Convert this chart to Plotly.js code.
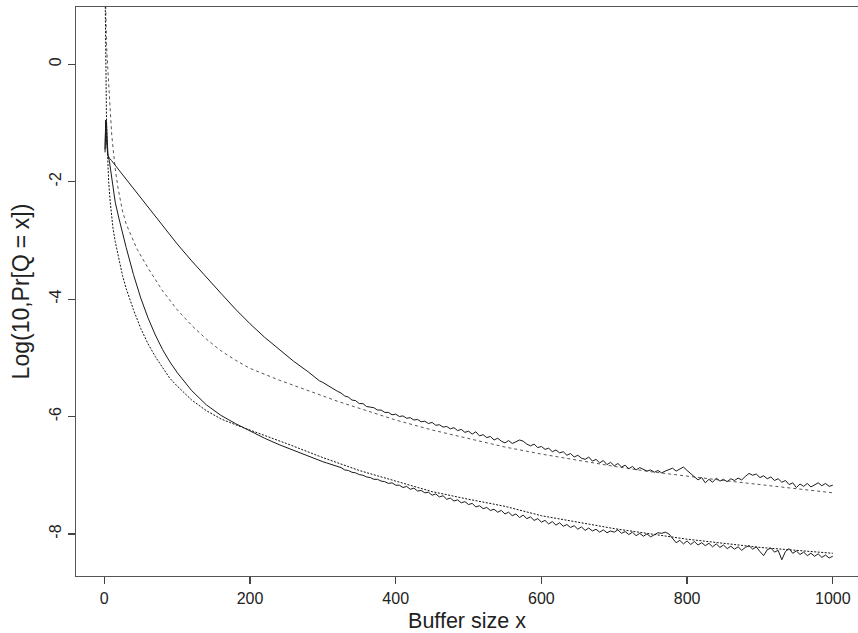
<!DOCTYPE html>
<html>
<head>
<meta charset="utf-8">
<script src="https://cdn.plot.ly/plotly-3.0.1.min.js"></script>
<style>html,body{margin:0;padding:0;background:#fff;}#chart{width:858px;height:633px;}</style>
</head>
<body>
<div id="chart"></div>
<script>
// ---- data ----
// Head (x < 300) of the two simulated (solid) curves
const upperSolidHeadX = [1, 2, 3, 4, 5, 7, 10, 20, 30, 40, 50, 60, 80, 100, 120, 140, 160, 180, 200, 220, 240, 260, 280, 295];
const upperSolidHeadY = [-1.45, -0.95, -1.0, -1.5, -1.55, -1.60, -1.64, -1.80, -1.96, -2.12, -2.28, -2.44, -2.76, -3.06, -3.35, -3.63, -3.90, -4.17, -4.42, -4.65, -4.86, -5.06, -5.24, -5.39];
const lowerSolidHeadX = [1, 2, 3, 4, 5, 7, 10, 15, 20, 25, 30, 40, 50, 60, 70, 80, 90, 100, 120, 140, 160, 180, 200, 220, 240, 260, 280, 295];
const lowerSolidHeadY = [-1.5, -0.95, -1.3, -1.45, -1.55, -1.65, -1.95, -2.35, -2.62, -2.88, -3.12, -3.58, -3.98, -4.32, -4.61, -4.86, -5.07, -5.25, -5.56, -5.80, -5.98, -6.12, -6.25, -6.37, -6.48, -6.58, -6.68, -6.75];

// Tail (x = 300 .. 1000, every 5) of the two simulated curves
const tailStart = 300, tailStep = 5;
const upperSolidTail = [
 -5.42,-5.46,-5.49,-5.54,-5.57,-5.60,-5.65,-5.67,-5.72,-5.73,
 -5.78,-5.78,-5.83,-5.84,-5.85,-5.89,-5.89,-5.93,-5.93,-5.97,
 -5.96,-6.00,-5.99,-6.03,-6.02,-6.06,-6.05,-6.09,-6.08,-6.12,
 -6.10,-6.15,-6.14,-6.18,-6.17,-6.21,-6.19,-6.24,-6.22,-6.27,
 -6.25,-6.30,-6.26,-6.33,-6.31,-6.36,-6.34,-6.40,-6.37,-6.42,
 -6.45,-6.41,-6.46,-6.43,-6.40,-6.42,-6.47,-6.50,-6.47,-6.53,
 -6.51,-6.56,-6.54,-6.60,-6.57,-6.62,-6.60,-6.66,-6.63,-6.69,
 -6.66,-6.71,-6.73,-6.69,-6.76,-6.73,-6.79,-6.75,-6.82,-6.78,
 -6.84,-6.80,-6.86,-6.83,-6.89,-6.85,-6.91,-6.87,-6.90,-6.93,
 -6.91,-6.95,-6.92,-6.96,-6.93,-6.90,-6.88,-6.93,-6.89,-6.86,
 -6.92,-6.97,-7.03,-7.08,-7.04,-7.13,-7.07,-7.12,-7.05,-7.10,
 -7.07,-7.11,-7.06,-7.09,-7.05,-7.08,-7.02,-6.97,-7.00,-6.98,
 -7.04,-7.01,-7.06,-7.03,-7.09,-7.06,-7.12,-7.09,-7.16,-7.13,
 -7.21,-7.15,-7.19,-7.14,-7.20,-7.16,-7.13,-7.18,-7.14,-7.19,
 -7.17
];
const lowerSolidTail = [
 -6.77,-6.79,-6.81,-6.83,-6.86,-6.87,-6.91,-6.92,-6.95,-6.96,
 -6.99,-7.00,-7.03,-7.04,-7.07,-7.07,-7.10,-7.11,-7.14,-7.13,
 -7.17,-7.17,-7.21,-7.19,-7.24,-7.22,-7.27,-7.26,-7.30,-7.29,
 -7.34,-7.32,-7.37,-7.35,-7.41,-7.39,-7.44,-7.42,-7.47,-7.45,
 -7.50,-7.48,-7.54,-7.52,-7.57,-7.55,-7.60,-7.58,-7.63,-7.60,
 -7.66,-7.63,-7.69,-7.66,-7.72,-7.68,-7.74,-7.71,-7.77,-7.74,
 -7.80,-7.77,-7.83,-7.79,-7.85,-7.81,-7.87,-7.84,-7.89,-7.86,
 -7.92,-7.88,-7.94,-7.90,-7.95,-7.92,-7.97,-7.93,-7.98,-7.95,
 -7.97,-7.93,-7.99,-7.96,-8.01,-7.97,-8.03,-7.99,-8.04,-8.00,
 -8.05,-8.01,-7.98,-7.99,-7.97,-8.00,-8.08,-8.15,-8.11,-8.17,
 -8.12,-8.18,-8.13,-8.19,-8.15,-8.20,-8.16,-8.22,-8.17,-8.23,
 -8.19,-8.25,-8.21,-8.26,-8.22,-8.28,-8.23,-8.20,-8.26,-8.22,
 -8.30,-8.37,-8.27,-8.24,-8.31,-8.28,-8.44,-8.30,-8.25,-8.33,
 -8.29,-8.35,-8.31,-8.37,-8.33,-8.38,-8.34,-8.40,-8.36,-8.41,
 -8.38
];

// Analytical (dotted) curves
const upperDottedX = [1, 2, 3, 4, 5, 6, 7, 8, 10, 12, 15, 19, 25, 30, 37, 45, 60, 80, 100, 120, 140, 160, 180, 200, 240, 280, 320, 360, 400, 450, 500, 550, 600, 650, 700, 750, 800, 850, 900, 950, 1000];
const upperDottedY = [1.6, 0.65, 0.35, 0.1, -0.15, -0.40, -0.62, -0.82, -1.17, -1.43, -1.78, -2.12, -2.50, -2.72, -2.93, -3.15, -3.47, -3.86, -4.18, -4.45, -4.68, -4.88, -5.04, -5.18, -5.38, -5.56, -5.74, -5.90, -6.06, -6.23, -6.38, -6.52, -6.64, -6.75, -6.85, -6.94, -7.02, -7.09, -7.16, -7.23, -7.30];
const lowerDottedX = [1, 2, 3, 4, 5, 6, 8, 10, 12, 15, 19, 25, 30, 35, 40, 50, 60, 70, 80, 90, 100, 120, 140, 160, 180, 200, 250, 300, 350, 400, 450, 500, 550, 600, 650, 700, 750, 800, 850, 900, 950, 1000];
const lowerDottedY = [1.4, -0.35, -0.95, -1.40, -1.74, -2.0, -2.33, -2.60, -2.80, -3.02, -3.25, -3.60, -3.82, -4.02, -4.18, -4.50, -4.76, -4.98, -5.17, -5.35, -5.48, -5.72, -5.90, -6.04, -6.14, -6.23, -6.46, -6.70, -6.92, -7.10, -7.28, -7.41, -7.53, -7.69, -7.80, -7.91, -8.00, -8.09, -8.16, -8.23, -8.28, -8.33];

const xTickVals = [0, 200, 400, 600, 800, 1000];
const xTickText = ['0', '200', '400', '600', '800', '1000'];
const yTickVals = [-8, -6, -4, -2, 0];
const yTickText = ['-8', '-6', '-4', '-2', '0'];

// ---- assemble series ----
function tailX(n) { const a = []; for (let i = 0; i < n; i++) a.push(tailStart + i * tailStep); return a; }
const upperSolidX = upperSolidHeadX.concat(tailX(upperSolidTail.length));
const upperSolidY = upperSolidHeadY.concat(upperSolidTail);
const lowerSolidX = lowerSolidHeadX.concat(tailX(lowerSolidTail.length));
const lowerSolidY = lowerSolidHeadY.concat(lowerSolidTail);

const solidLine = {color: '#1a1a1a', width: 1};
const traces = [
  {x: upperDottedX, y: upperDottedY, mode: 'lines', line: {color: '#555', width: 1, dash: 'dot'}, hoverinfo: 'skip'},
  {x: lowerDottedX, y: lowerDottedY, mode: 'lines', line: {color: '#111', width: 1, dash: '2px,1.5px'}, hoverinfo: 'skip'},
  {x: upperSolidX, y: upperSolidY, mode: 'lines', line: solidLine, hoverinfo: 'skip'},
  {x: lowerSolidX, y: lowerSolidY, mode: 'lines', line: solidLine, hoverinfo: 'skip'}
];

const axisCommon = {
  showgrid: false, zeroline: false, showline: true, linecolor: '#555', linewidth: 1.3,
  ticks: 'outside', ticklen: 7, tickwidth: 1.2, tickcolor: '#444',
  tickfont: {family: 'Liberation Sans, Arial, sans-serif', size: 16, color: '#222'},
  tickmode: 'array', fixedrange: true
};

const layout = {
  width: 858, height: 633,
  margin: {l: 76, r: 0, t: 7, b: 57, pad: 0},
  paper_bgcolor: '#ffffff', plot_bgcolor: '#ffffff',
  showlegend: false,
  font: {family: 'Liberation Sans, Arial, sans-serif', size: 16, color: '#222'},
  xaxis: Object.assign({}, axisCommon, {
    range: [-38.85, 1034.6], mirror: true,
    tickvals: xTickVals, ticktext: xTickText,
    title: {text: 'Buffer size x', font: {size: 21.5, color: '#222'}, standoff: 10}
  }),
  yaxis: Object.assign({}, axisCommon, {
    range: [-8.717, 0.976], mirror: false, tickangle: -90,
    tickvals: yTickVals, ticktext: yTickText,
    title: {text: 'Log(10,Pr[Q\u2005=\u2005x])', font: {size: 23, color: '#222'}, standoff: 11}
  })
};

Plotly.newPlot('chart', traces, layout, {staticPlot: true, displayModeBar: false});
</script>
</body>
</html>
